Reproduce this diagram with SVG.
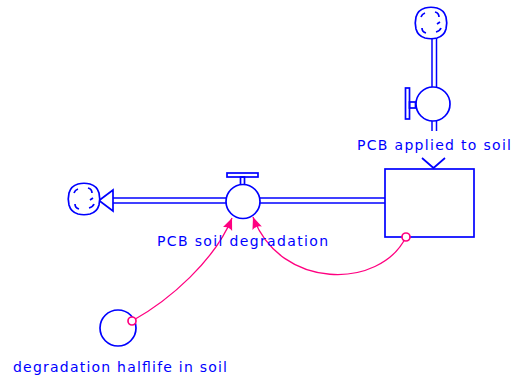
<svg xmlns="http://www.w3.org/2000/svg" width="512" height="379" viewBox="0 0 512 379">
<style>
.b{fill:none;stroke:#0000ff;stroke-width:1.7}
.bw{fill:#ffffff;stroke:#0000ff;stroke-width:1.7}
.pipe{fill:none;stroke:#0000ff;stroke-width:1.5}
.lbl{fill:#0000ff;font-family:"DejaVu Sans","Liberation Sans",sans-serif;font-size:14px}
.conn{fill:none;stroke:#ff0080;stroke-width:1.3}
.cdot{fill:#ffffff;stroke:#ff0080;stroke-width:1.7}
</style>
<defs>
<marker id="ah" markerUnits="userSpaceOnUse" markerWidth="14" markerHeight="12" refX="12" refY="5" orient="auto">
<path d="M0,0 L12,5 L0,10 Q3,5 0,0 z" fill="#ff0080"/>
</marker>
<g id="cloud">
<path class="bw" d="M-6,-15 Q0,-16.5 6,-15 A13,13 0 0 1 15,-6 Q16.5,0 15,6 A13,13 0 0 1 6,15 Q0,16.5 -6,15 A13,13 0 0 1 -15,6 Q-16.5,0 -15,-6 A13,13 0 0 1 -6,-15 z"/>
<path class="b" d="M-10,-6 q1,-3 4,-4 M4,-11 q4,1 4,5 M10,5 q-1,3 -5,4 M-5,10 q-4,-1 -4,-5 M9,-1 l-3,2"/>
</g>
</defs>

<g id="connectors">
<path class="conn" d="M132,321 C170,300 215,260 232,218" marker-end="url(#ah)"/>
<path class="conn" d="M406,237 C380,290 280,290 253,217" marker-end="url(#ah)"/>
</g>

<g id="flow-degradation">
<line class="pipe" x1="113" y1="198" x2="226" y2="198"/>
<line class="pipe" x1="113" y1="203" x2="226" y2="203"/>
<line class="pipe" x1="260" y1="198" x2="385" y2="198"/>
<line class="pipe" x1="260" y1="203" x2="385" y2="203"/>
<path class="bw" d="M99,200.5 L113,190 L113,211 z"/>
<rect class="b" x="227" y="173" width="31" height="4"/>
<rect class="b" x="240.5" y="177" width="4" height="8"/>
<circle class="bw" cx="243" cy="201.5" r="17"/>
<text class="lbl" x="157" y="246" textLength="171" lengthAdjust="spacing">PCB soil degradation</text>
</g>

<g id="cloud-left">
<use href="#cloud" transform="translate(84,199)"/>
</g>

<g id="flow-applied">
<line class="pipe" x1="432" y1="38" x2="432" y2="87"/>
<line class="pipe" x1="436.5" y1="38" x2="436.5" y2="87"/>
<line class="pipe" x1="432" y1="121" x2="432" y2="131"/>
<line class="pipe" x1="436.5" y1="121" x2="436.5" y2="131"/>
<rect class="b" x="405.5" y="88" width="4" height="31"/>
<rect class="b" x="409.5" y="102" width="6" height="6"/>
<circle class="bw" cx="433" cy="104" r="17"/>
<text class="lbl" x="357" y="150" textLength="154" lengthAdjust="spacing">PCB applied to soil</text>
<path class="b" d="M422,158 L433.5,168 L445,158"/>
</g>

<g id="cloud-top">
<use href="#cloud" transform="translate(431,23)"/>
</g>

<g id="stock-soil">
<rect class="b" x="385" y="169" width="89" height="68"/>
</g>

<g id="aux-halflife">
<circle class="b" cx="118" cy="328" r="18"/>
<text class="lbl" x="13" y="372" textLength="214" lengthAdjust="spacing">degradation halflife in soil</text>
</g>

<g id="connector-dots">
<circle class="cdot" cx="132" cy="321" r="4"/>
<circle class="cdot" cx="406" cy="237" r="4"/>
</g>
</svg>
